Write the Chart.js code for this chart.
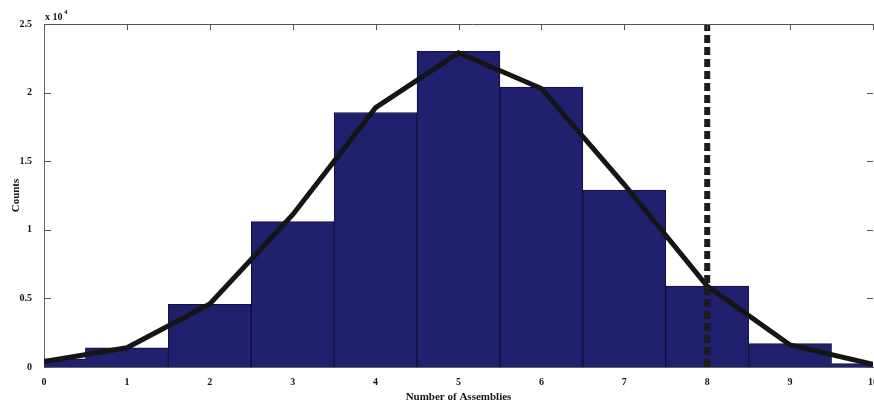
<!DOCTYPE html>
<html>
<head>
<meta charset="utf-8">
<title>Number of Assemblies</title>
<script src="https://cdn.jsdelivr.net/npm/chart.js@4/dist/chart.umd.min.js"></script>
<style>
  html, body { margin: 0; padding: 0; background: #ffffff; overflow: hidden; }
  #wrap { width: 900px; height: 404px; }
</style>
</head>
<body>
<div id="wrap"><canvas id="c" width="900" height="404"></canvas></div>
<script>
// Histogram of assembly counts per bin
const ASSEMBLIES = [0, 1, 2, 3, 4, 5, 6, 7, 8, 9, 10];
const HIST_COUNTS = [600, 1400, 4570, 10600, 18550, 23000, 20400, 12900, 5900, 1700, 250];
// Fitted distribution evaluated at the same bins
const FIT_COUNTS = [400, 1400, 4600, 11100, 18900, 22900, 20300, 13300, 5900, 1600, 200];
// Threshold marker
const THRESHOLD_X = 8;
const Y_TICKS = [0, 5000, 10000, 15000, 20000, 25000];
const Y_SCALE_EXP = 4;

const FONT = 'Liberation Serif';
const INK = '#151515';

const histData = ASSEMBLIES.map((x, i) => ({ x: x, y: HIST_COUNTS[i] }));
const fitData = ASSEMBLIES.map((x, i) => ({ x: x, y: FIT_COUNTS[i] }));
const markerData = [{ x: THRESHOLD_X, y: Y_TICKS[0] }, { x: THRESHOLD_X, y: Y_TICKS[Y_TICKS.length - 1] }];

// Inward tick marks on all four sides, the top frame line and the axis multiplier
const boxTicks = {
  id: 'boxTicks',
  afterDatasetsDraw(chart) {
    const { ctx, chartArea: a, scales: { x, y } } = chart;
    ctx.save();
    ctx.strokeStyle = '#555';
    ctx.lineWidth = 1;
    ctx.beginPath();
    ctx.moveTo(a.left, a.top + 0.5);
    ctx.lineTo(a.right + 30, a.top + 0.5);
    Y_TICKS.forEach(v => {
      const py = Math.round(y.getPixelForValue(v)) + 0.5;
      ctx.moveTo(a.left, py); ctx.lineTo(a.left + 7, py);
      ctx.moveTo(a.right - 6, py); ctx.lineTo(a.right, py);
    });
    ASSEMBLIES.forEach(v => {
      const px = Math.round(x.getPixelForValue(v)) + 0.5;
      ctx.moveTo(px, a.top); ctx.lineTo(px, a.top + 6);
    });
    ctx.stroke();
    // multiplier label above the y axis
    ctx.fillStyle = INK;
    ctx.textBaseline = 'alphabetic';
    ctx.textAlign = 'left';
    ctx.font = 'bold 10px "' + FONT + '"';
    ctx.fillText('x 10', a.left + 1, a.top - 4);
    ctx.font = 'bold 7px "' + FONT + '"';
    ctx.fillText(String(Y_SCALE_EXP), a.left + 20, a.top - 10);
    ctx.restore();
  }
};

new Chart(document.getElementById('c'), {
  data: {
    datasets: [
      {
        type: 'line',
        data: markerData,
        borderColor: '#1c1c1c',
        borderWidth: 6,
        borderDash: [8, 4],
        pointRadius: 0,
        order: 0
      },
      {
        type: 'line',
        data: fitData,
        borderColor: INK,
        borderWidth: 5,
        tension: 0,
        pointRadius: 0,
        order: 1
      },
      {
        type: 'bar',
        data: histData,
        backgroundColor: '#20206e',
        borderColor: '#10103a',
        borderWidth: 1,
        barPercentage: 1.0,
        categoryPercentage: 1.0,
        order: 2
      }
    ]
  },
  options: {
    responsive: false,
    animation: false,
    devicePixelRatio: 1,
    layout: { padding: { top: 24, right: 27, left: 0, bottom: 0 } },
    plugins: { legend: { display: false }, tooltip: { enabled: false } },
    scales: {
      x: {
        type: 'linear',
        min: 0,
        max: 10,
        offset: false,
        afterFit(s) { s.height = 37; },
        grid: { display: false, offset: false },
        border: { display: true, color: '#666', width: 1 },
        ticks: {
          stepSize: 1,
          padding: 1,
          color: INK,
          font: { family: FONT, size: 10, weight: 'bold' }
        },
        title: {
          display: true,
          text: 'Number of Assemblies',
          color: INK,
          padding: { top: 0, bottom: 0 },
          font: { family: FONT, size: 11, weight: 'bold' }
        }
      },
      y: {
        min: 0,
        max: 25000,
        afterFit(s) { s.width = 44; },
        afterBuildTicks(s) { s.ticks = Y_TICKS.map(v => ({ value: v })); },
        grid: { display: false },
        border: { display: true, color: '#666', width: 1 },
        ticks: {
          padding: 4,
          color: INK,
          font: { family: FONT, size: 10, weight: 'bold' },
          callback: v => String(v / Math.pow(10, Y_SCALE_EXP))
        },
        title: {
          display: true,
          text: 'Counts',
          color: INK,
          padding: { top: 10, bottom: 2 },
          font: { family: FONT, size: 11, weight: 'bold' }
        }
      }
    }
  },
  plugins: [boxTicks]
});
</script>
</body>
</html>
